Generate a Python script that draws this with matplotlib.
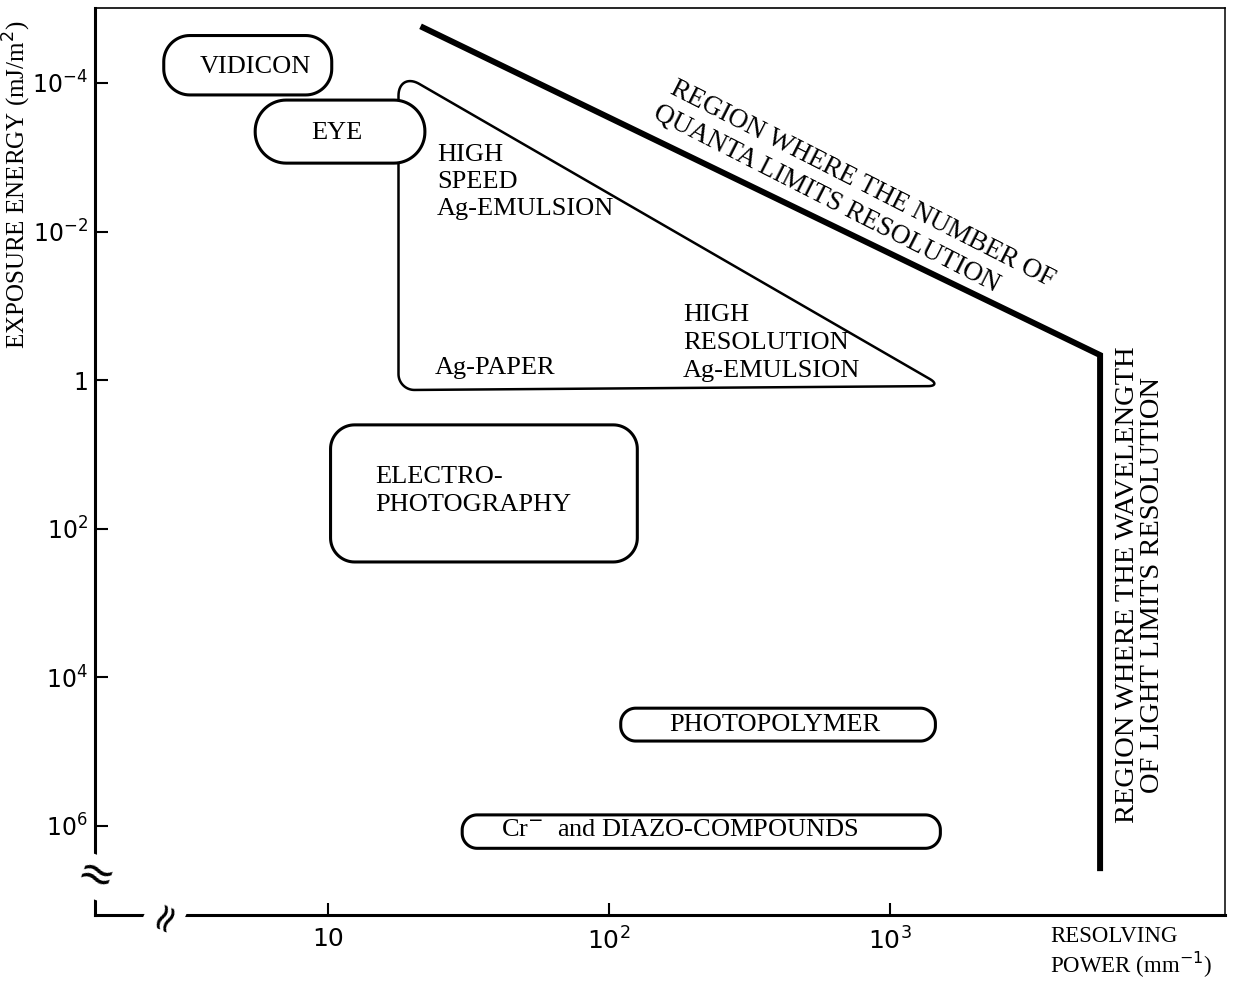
import numpy as np
import matplotlib
matplotlib.use('Agg')
import matplotlib.pyplot as plt

# resolving power (mm^-1) / exposure energy (mJ/m^2) ranges
box_res = [(2.6, 10.3), (5.5, 22.1), (10.2, 126), (110, 1450), (30, 1510)]
box_energy = [(2.3e-5, 1.45e-4), (1.7e-4, 1.2e-3), (4.0, 280), (2.6e4, 7.2e4), (7.1e5, 2.0e6)]

# silver halide triangle (corners)
ag_res = [17.8, 17.8, 1530]
ag_energy = [7.1e-5, 1.36, 1.2]

# physical limit line (quanta, then wavelength)
limit_res = [21.8, 5590, 5590]
limit_energy = [1.8e-5, 0.46, 3.7e6]

yticks = [1e-4, 1e-2, 1, 1e2, 1e4, 1e6]
yticklabels = ['10$^{-4}$', '10$^{-2}$', '1', '10$^{2}$', '10$^{4}$', '10$^{6}$']
xticks = [10, 100, 1000]
xticklabels = ['10', '10$^{2}$', '10$^{3}$']

serif = 'Liberation Serif'
sans = 'DejaVu Sans'


def rounded_path(ax, xs, ys, radii):
    # rounded polygon built in screen space so the corners look round on log axes
    pts = ax.transData.transform(np.column_stack([xs, ys]))
    n = len(pts)
    t = np.linspace(0, 1, 20)[:, None]
    segs = []
    for i in range(n):
        p, a, b = pts[i], pts[i - 1], pts[(i + 1) % n]
        ua = (a - p) / np.linalg.norm(a - p)
        ub = (b - p) / np.linalg.norm(b - p)
        p1 = p + radii[i] * ua
        p2 = p + radii[i] * ub
        c1 = p1 + 0.55 * (p - p1)
        c2 = p2 + 0.55 * (p - p2)
        segs.append((1 - t)**3 * p1 + 3 * (1 - t)**2 * t * c1 + 3 * (1 - t) * t**2 * c2 + t**3 * p2)
    segs.append(segs[0][:1])
    out = ax.transData.inverted().transform(np.vstack(segs))
    return out[:, 0], out[:, 1]


fig = plt.figure(figsize=(12.33, 9.81), dpi=100)
ax = fig.add_axes([95 / 1233, 66 / 981, 1130 / 1233, 907 / 981])
ax.set_xscale('log')
ax.set_yscale('log')
ax.set_xlim(1.48, 15560)
ax.set_ylim(1.58e7, 9.8e-6)

ax.spines['left'].set_linewidth(2.2)
ax.spines['bottom'].set_linewidth(2.2)
ax.spines['top'].set_linewidth(1.2)
ax.spines['right'].set_linewidth(1.1)

ax.set_xticks(xticks)
ax.set_xticklabels(xticklabels)
ax.set_yticks(yticks)
ax.set_yticklabels(yticklabels)
ax.minorticks_off()
ax.tick_params(axis='both', direction='in', length=9, width=1.5, labelsize=18)
ax.tick_params(axis='y', pad=5, labelsize=17)
ax.tick_params(axis='x', pad=9)
for lab in ax.get_xticklabels() + ax.get_yticklabels():
    lab.set_family(sans)

# triangle for silver emulsions
tx, ty = rounded_path(ax, ag_res, ag_energy, [24, 16, 14])
ax.fill(tx, ty, facecolor='white', edgecolor='black', lw=1.8, zorder=2)

radii = [26, 31, 24, 15, 15]
for (x0, x1), (e0, e1), r in zip(box_res, box_energy, radii):
    bx, by = rounded_path(ax, [x0, x1, x1, x0], [e0, e0, e1, e1], [r] * 4)
    ax.fill(bx, by, facecolor='white', edgecolor='black', lw=2.2, zorder=3)

ax.plot(limit_res, limit_energy, color='black', lw=4.3, solid_joinstyle='miter', zorder=4)

fs = 19
ax.text(5.5, 6.1e-5, 'VIDICON', family=serif, fontsize=fs, ha='center', va='center', zorder=5)
ax.text(10.7, 4.7e-4, 'EYE', family=serif, fontsize=fs, ha='center', va='center', zorder=5)
ax.text(24.4, 2.15e-3, 'HIGH\nSPEED\nAg-EMULSION', family=serif, fontsize=fs,
        ha='left', va='center', linespacing=1.28, zorder=5)
ax.text(24.0, 0.69, 'Ag-PAPER', family=serif, fontsize=fs, ha='left', va='center', zorder=5)
ax.text(183, 0.316, 'HIGH\nRESOLUTION\nAg-EMULSION', family=serif, fontsize=fs,
        ha='left', va='center', linespacing=1.35, zorder=5)
ax.text(14.7, 31, 'ELECTRO-\nPHOTOGRAPHY', family=serif, fontsize=fs,
        ha='left', va='center', linespacing=1.3, zorder=5)
ax.text(390, 4.4e4, 'PHOTOPOLYMER', family=serif, fontsize=fs, ha='center', va='center', zorder=5)
ax.text(179, 1.17e6, 'Cr$^{-}$  and DIAZO-COMPOUNDS', family=serif, fontsize=fs,
        ha='center', va='center', zorder=5)
ax.text(794, 2.3e-3, 'REGION WHERE THE NUMBER OF', family=serif, fontsize=19.5,
        ha='center', va='center', rotation=-27, rotation_mode='anchor', zorder=5)
ax.text(592, 3.7e-3, 'QUANTA LIMITS RESOLUTION', family=serif, fontsize=19.5,
        ha='center', va='center', rotation=-27, rotation_mode='anchor', zorder=5)
ax.text(7760, 570, 'REGION WHERE THE WAVELENGTH\nOF LIGHT LIMITS RESOLUTION',
        family=serif, fontsize=20.5, ha='center', va='center', rotation=90,
        linespacing=1.0, zorder=5)

# axis titles
fig.text(0.0140, 0.812, 'EXPOSURE ENERGY (mJ/m$^{2}$)', family=serif, fontsize=18,
         rotation=90, ha='center', va='center')
ax.text(0.845, -0.012, 'RESOLVING\nPOWER (mm$^{-1}$)', transform=ax.transAxes, family=serif,
        fontsize=16.5, ha='left', va='top', linespacing=1.12)

# axis break marks
ax.text(0, 0.042, '\u2248', transform=ax.transAxes, fontsize=32, ha='center', va='center',
        rotation=-20, family=sans, clip_on=False, zorder=6,
        bbox=dict(facecolor='white', edgecolor='none', pad=0))
ax.text(0.062, 0, '\u2248', transform=ax.transAxes, fontsize=28, ha='center', va='center',
        rotation=65, family=sans, clip_on=False, zorder=6,
        bbox=dict(facecolor='white', edgecolor='none', pad=0))

fig.savefig('out.png', dpi=100)
